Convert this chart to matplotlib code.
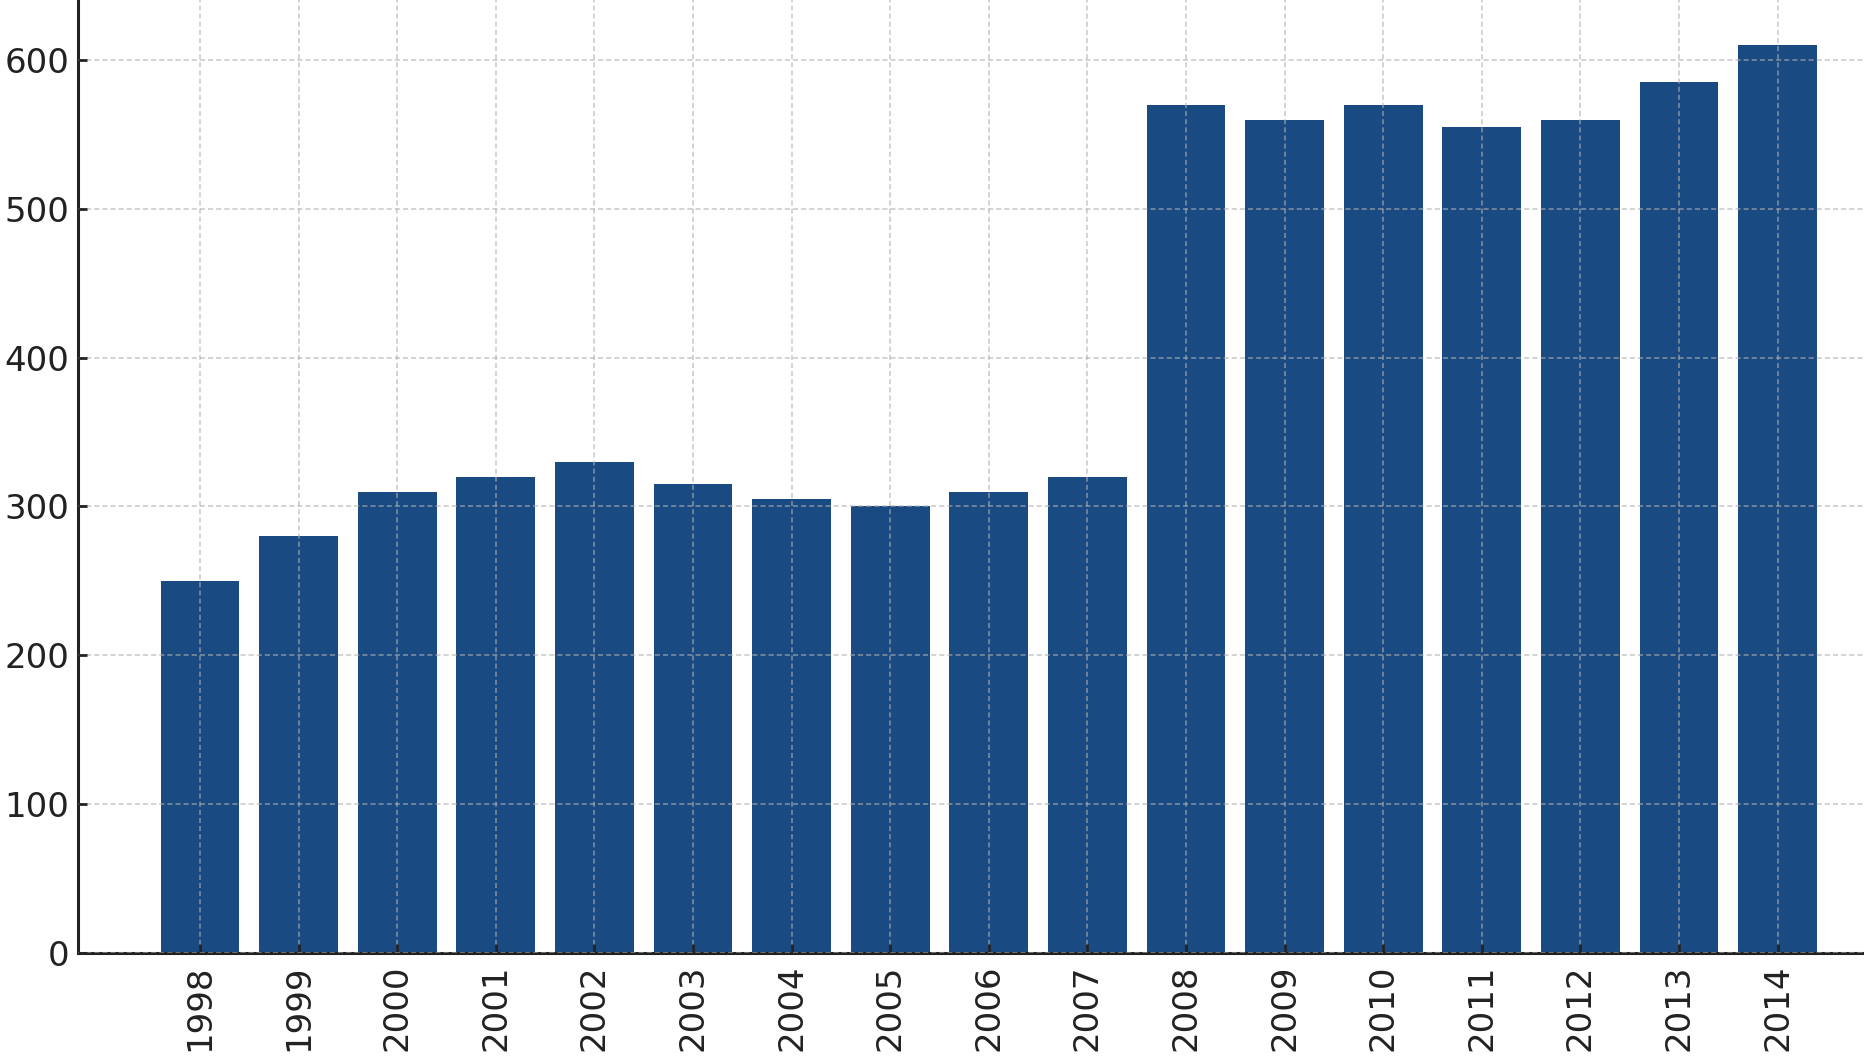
import matplotlib
matplotlib.use("Agg")
import matplotlib.pyplot as plt
import numpy as np

years = ["1998", "1999", "2000", "2001", "2002", "2003", "2004", "2005", "2006",
         "2007", "2008", "2009", "2010", "2011", "2012", "2013", "2014"]
values = [250, 280, 310, 320, 330, 315, 305, 300, 310,
          320, 570, 560, 570, 555, 560, 585, 610]
yticks = [0, 100, 200, 300, 400, 500, 600]

W, H = 1864, 1059
fig = plt.figure(figsize=(W / 100, H / 100), dpi=100)
left = 78.3 / W
bottom = (H - 953) / H
ax = fig.add_axes([left, bottom, 1 - left, 1 - bottom])

x = np.arange(len(years))
ax.bar(x, values, width=0.8, color="#1a4a82", zorder=2)

ax.set_xlim(-1.234, 16.876)
ax.set_ylim(0, 640.3)
ax.set_xticks(x)
ax.set_xticklabels(years, rotation=90)
ax.set_yticks(yticks)

ax.grid(True, linestyle=(0, (2.8, 1.7)), color="#b0b0b0", alpha=0.6, linewidth=1.3, zorder=3)
ax.set_axisbelow(False)

for s in ["top", "right"]:
    ax.spines[s].set_visible(False)
for s in ["left", "bottom"]:
    ax.spines[s].set_linewidth(2.2)
    ax.spines[s].set_color("#222222")

ax.tick_params(axis="both", direction="in", length=6.5, width=2, color="#222222",
               labelsize=24.5, labelcolor="#222222")
ax.tick_params(axis="y", pad=6.5)
ax.tick_params(axis="x", pad=8)

fig.savefig("out.png", dpi=100)
